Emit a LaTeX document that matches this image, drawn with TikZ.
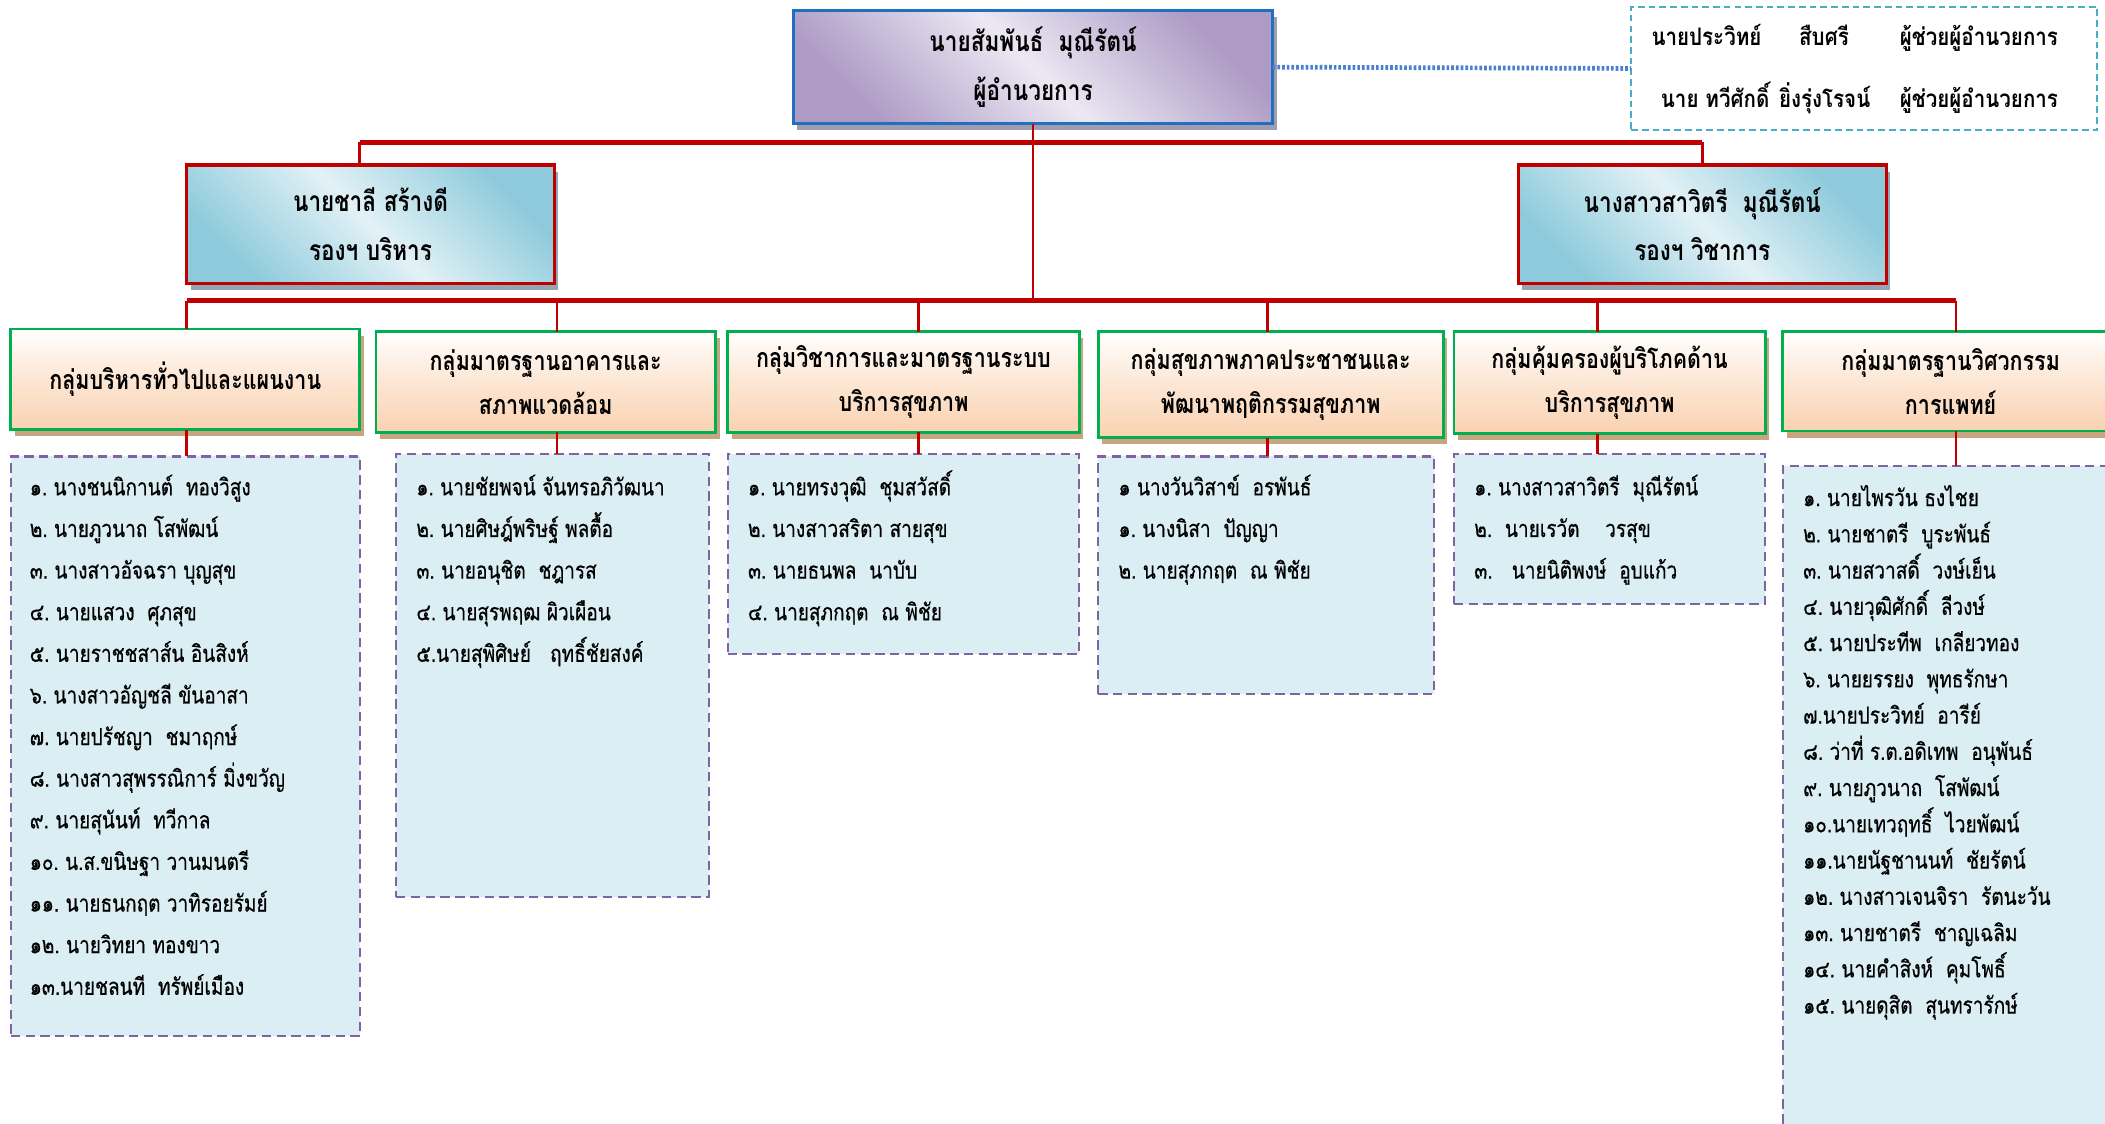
\documentclass[tikz,border=0pt]{standalone}
\usepackage{fontspec}
\setmainfont[Script=Thai]{Loma}
\newfontfamily\hdrf[Script=Thai, FakeStretch=0.8]{Loma}
\newfontfamily\astf[Script=Thai, FakeStretch=0.85]{Loma}
\newfontfamily\lstf[Script=Thai, FakeStretch=0.81, FakeBold=0.5]{Loma}
\usetikzlibrary{shadows}
\definecolor{redc}{HTML}{C00000}
\definecolor{dirblue}{HTML}{1F70C1}
\definecolor{lavL}{HTML}{ECE8F3}
\definecolor{lavD}{HTML}{AD9AC5}
\definecolor{dirsh}{HTML}{A19CAE}
\definecolor{blueL}{HTML}{E2F1F6}
\definecolor{blueD}{HTML}{8DCADB}
\definecolor{vicesh}{HTML}{91A8B3}
\definecolor{peach}{HTML}{FAD2B1}
\definecolor{grpsh}{HTML}{C9A480}
\definecolor{grn}{HTML}{00B050}
\definecolor{listfill}{HTML}{DAEEF3}
\definecolor{purp}{HTML}{8064A2}
\definecolor{tealc}{HTML}{4BACC6}
\definecolor{dotblue}{HTML}{4A80D0}
\begin{document}
\begin{tikzpicture}[x=1pt,y=-1pt]
\tikzset{
 box/.style={rectangle, inner sep=0pt, outer sep=0pt, anchor=north west, align=center},
 hdr/.style={font=\hdrf\fontsize{21}{36}\selectfont\bfseries},
 grpfont/.style={font=\hdrf\fontsize{20}{33}\selectfont\bfseries},
 dirbox/.style={box, hdr, draw=dirblue, line width=2pt,
   top color=lavD, bottom color=lavD, middle color=lavL, shading angle=-45,
   drop shadow={opacity=1, fill=dirsh, shadow xshift=3pt, shadow yshift=-5pt}},
 vicebox/.style={box, hdr, draw=redc, line width=2.5pt,
   top color=blueD, bottom color=blueD, middle color=blueL, shading angle=-45,
   drop shadow={opacity=1, fill=vicesh, shadow xshift=3pt, shadow yshift=-5pt}},
 grpbox/.style={box, grpfont, draw=grn, line width=2pt,
   top color=white, bottom color=peach, middle color=white!45!peach,
   drop shadow={opacity=1, fill=grpsh, shadow xshift=3pt, shadow yshift=-5pt}},
 listbox/.style={box, draw=purp, line width=1.6pt, dash pattern=on 7pt off 4pt, fill=listfill},
 asstbox/.style={box, draw=tealc, line width=1.6pt, dash pattern=on 5pt off 3pt, fill=white},
 lt/.style={anchor=base west, inner sep=0pt, font=\lstf\fontsize{17.5}{20}\selectfont},
 asttext/.style={anchor=base west, inner sep=0pt, font=\astf\fontsize{18}{20}\selectfont\bfseries},
 bus/.style={draw=redc, line width=3.4pt},
 rv/.style={draw=redc, line width=2pt},
 dotl/.style={draw=dotblue, line width=3.5pt, dash pattern=on 2pt off 1.5pt}
}
\path[use as bounding box, fill=white] (0,0) rectangle (1568,837);

\coordinate (b1L) at (268,106);
\coordinate (b1R) at (1268,106);
\coordinate (b2L) at (139,224);
\coordinate (b2R) at (1457,224);
\coordinate (t1) at (139,224);
\coordinate (t2) at (415,224);
\coordinate (t3) at (684,224);
\coordinate (t4) at (944,224);
\coordinate (t5) at (1190,224);
\coordinate (t6) at (1457,224);

% boxes
\node[dirbox, minimum width=357pt, minimum height=84pt] (dir) at (591,8)
  {นายสัมพันธ์~~มุณีรัตน์\\ผู้อำนวยการ};
\node[asstbox, minimum width=347pt, minimum height=92pt] (asst) at (1215,5) {};
\node[vicebox, minimum width=274pt, minimum height=88pt] (v1) at (139,123)
  {นายชาลี สร้างดี\\รองฯ บริหาร};
\node[vicebox, minimum width=274pt, minimum height=88pt] (v2) at (1131,123)
  {นางสาวสาวิตรี~~มุณีรัตน์\\รองฯ วิชาการ};

\node[grpbox, minimum width=260pt, minimum height=75pt] (g1) at (8,245)
  {กลุ่มบริหารทั่วไปและแผนงาน};
\node[grpbox, minimum width=253pt, minimum height=75pt] (g2) at (280,247)
  {กลุ่มมาตรฐานอาคารและ\\สภาพแวดล้อม};
\node[grpbox, minimum width=262pt, minimum height=75pt] (g3) at (542,247)
  {กลุ่มวิชาการและมาตรฐานระบบ\\บริการสุขภาพ};
\node[grpbox, minimum width=257pt, minimum height=79pt] (g4) at (818,247)
  {กลุ่มสุขภาพภาคประชาชนและ\\พัฒนาพฤติกรรมสุขภาพ};
\node[grpbox, minimum width=232pt, minimum height=76pt] (g5) at (1083,247)
  {กลุ่มคุ้มครองผู้บริโภคด้าน\\บริการสุขภาพ};
\node[grpbox, minimum width=250pt, minimum height=74pt] (g6) at (1328,247)
  {กลุ่มมาตรฐานวิศวกรรม\\การแพทย์};

\node[listbox, minimum width=260pt, minimum height=432pt] (l1) at (8,340) {};
\node[listbox, minimum width=233pt, minimum height=330pt] (l2) at (295,338) {};
\node[listbox, minimum width=262pt, minimum height=149pt] (l3) at (542,338) {};
\node[listbox, minimum width=250pt, minimum height=177pt] (l4) at (818,340) {};
\node[listbox, minimum width=232pt, minimum height=112pt] (l5) at (1083,338) {};
\node[listbox, minimum width=280pt, minimum height=530pt] (l6) at (1328,347) {};

% connectors
\draw[dotl] (dir.east) -- (asst.west);
\draw[rv] (dir.south) -- (dir.south |- b2L);
\draw[bus] (b1L) -- (b1R);
\draw[rv] (b1L) -- (b1L |- v1.north);
\draw[rv] (b1R) -- (b1R |- v2.north);
\draw[bus] (b2L) -- (b2R);
\foreach \k in {1,...,6}{
  \draw[rv] (t\k) -- (t\k |- g\k.north);
  \draw[rv] (t\k |- g\k.south) -- (t\k |- l\k.north);
}

% assistant texts
\node[asttext] (a11) at (1230,34) {นายประวิทย์};
\node[asttext] (a12) at (1340,34) {สืบศรี};
\node[asttext] (a13) at (1415,34) {ผู้ช่วยผู้อำนวยการ};
\node[asttext] (a21) at (1237,80) {นาย ทวีศักดิ์};
\node[asttext] (a22) at (1325,80) {ยิ่งรุ่งโรจน์};
\node[asttext] (a23) at (1415,80) {ผู้ช่วยผู้อำนวยการ};

% lists
\foreach \t [count=\i] in {
 {๑.~นางชนนิกานต์~~ทองวิสูง},
 {๒.~นายภูวนาถ โสพัฒน์},
 {๓.~นางสาวอัจฉรา บุญสุข},
 {๔.~นายแสวง~~ศุภสุข},
 {๕.~นายราชชสาส์น อินสิงห์},
 {๖.~นางสาวอัญชลี ขันอาสา},
 {๗.~นายปรัชญา~~ชมาฤกษ์},
 {๘.~นางสาวสุพรรณิการ์ มิ่งขวัญ},
 {๙.~นายสุนันท์~~ทวีกาล},
 {๑๐.~น.ส.ขนิษฐา วานมนตรี},
 {๑๑.~นายธนกฤต วาทิรอยรัมย์},
 {๑๒.~นายวิทยา ทองขาว},
 {๑๓.นายชลนที~~ทรัพย์เมือง}}
 \node[lt] (la\i) at (22,{369+31*(\i-1)}) {\t};

\foreach \t [count=\i] in {
 {๑.~นายชัยพจน์ จันทรอภิวัฒนา},
 {๒.~นายศิษฎ์พริษฐ์ พลตื้อ},
 {๓.~นายอนุชิต~~ชฎารส},
 {๔.~นายสุรพฤฒ ผิวเผือน},
 {๕.นายสุพิศิษย์~~~ฤทธิ์ชัยสงค์}}
 \node[lt] (lb\i) at (310,{369+31*(\i-1)}) {\t};

\foreach \t [count=\i] in {
 {๑.~นายทรงวุฒิ~~ชุมสวัสดิ์},
 {๒.~นางสาวสริตา สายสุข},
 {๓.~นายธนพล~~นาบับ},
 {๔.~นายสุภกฤต~~ณ พิชัย}}
 \node[lt] (lc\i) at (557,{369+31*(\i-1)}) {\t};

\foreach \t [count=\i] in {
 {๑ นางวันวิสาข์~~อรพันธ์},
 {๑.~นางนิสา~~ปัญญา},
 {๒.~นายสุภกฤต~~ณ พิชัย}}
 \node[lt] (ld\i) at (833,{369+31*(\i-1)}) {\t};

\foreach \t [count=\i] in {
 {๑.~นางสาวสาวิตรี~~มุณีรัตน์},
 {๒.~~นายเรวัต~~~~วรสุข},
 {๓.~~~นายนิติพงษ์~~อูบแก้ว}}
 \node[lt] (le\i) at (1098,{369+31*(\i-1)}) {\t};

\foreach \t [count=\i] in {
 {๑.~นายไพรวัน ธงไชย},
 {๒.~นายชาตรี~~บูระพันธ์},
 {๓.~นายสวาสดิ์~~วงษ์เย็น},
 {๔.~นายวุฒิศักดิ์~~ลีวงษ์},
 {๕.~นายประทีพ~~เกลียวทอง},
 {๖.~นายยรรยง~~พุทธรักษา},
 {๗.นายประวิทย์~~อารีย์},
 {๘.~ว่าที่ ร.ต.อดิเทพ~~อนุพันธ์},
 {๙.~นายภูวนาถ~~โสพัฒน์},
 {๑๐.นายเทวฤทธิ์~~ไวยพัฒน์},
 {๑๑.นายนัฐชานนท์~~ชัยรัตน์},
 {๑๒.~นางสาวเจนจิรา~~รัตนะวัน},
 {๑๓.~นายชาตรี~~ชาญเฉลิม},
 {๑๔.~นายคำสิงห์~~คุมโพธิ์},
 {๑๕.~นายดุสิต~~สุนทรารักษ์}}
 \node[lt] (lf\i) at (1343,{377+27*(\i-1)}) {\t};
\end{tikzpicture}
\end{document}
